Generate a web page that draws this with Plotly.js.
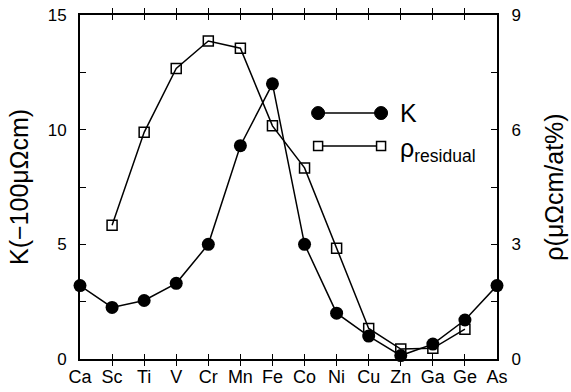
<!DOCTYPE html>
<html><head><meta charset="utf-8">
<script src="https://cdn.plot.ly/plotly-3.0.1.min.js"></script>
<style>html,body{margin:0;padding:0;background:#fff}#c{width:571px;height:392px}</style>
</head><body><div id="c"></div>
<script>
const elements = ['Ca','Sc','Ti','V','Cr','Mn','Fe','Co','Ni','Cu','Zn','Ga','Ge','As'];
const kValues = [3.2, 2.25, 2.55, 3.3, 5.0, 9.3, 12.0, 5.0, 2.0, 1.0, 0.15, 0.65, 1.7, 3.2];
const rhoElements = ['Sc','Ti','V','Cr','Mn','Fe','Co','Ni','Cu','Zn','Ga','Ge'];
const rhoValues = [3.5, 5.93, 7.6, 8.32, 8.13, 6.1, 5.0, 2.9, 0.8, 0.26, 0.28, 0.78];

const F = 'Liberation Sans, Arial, sans-serif';
const traces = [
  {x: elements, y: kValues, type:'scatter', mode:'lines+markers', name:'K', cliponaxis:false,
   line:{color:'#000', width:1.5}, marker:{symbol:'circle', size:13, color:'#000'}},
  {x: rhoElements, y: rhoValues, type:'scatter', mode:'lines+markers', name:'ρ', yaxis:'y2', cliponaxis:false,
   line:{color:'#000', width:1.5}, marker:{symbol:'square-open', size:10, color:'#000', line:{width:1.5}}}
];
const lx0 = 0.571, lx1 = 0.722, ly1 = 0.715, ly2 = 0.619;
const shapes = [
  {type:'line', xref:'paper', yref:'paper', x0:lx0, x1:lx1, y0:ly1, y1:ly1, line:{color:'#000', width:1.5}},
  {type:'line', xref:'paper', yref:'paper', x0:lx0, x1:lx1, y0:ly2, y1:ly2, line:{color:'#000', width:1.5}}
];
[lx0, lx1].forEach(x => {
  shapes.push({type:'circle', xref:'paper', yref:'paper', xsizemode:'pixel', ysizemode:'pixel',
    xanchor:x, yanchor:ly1, x0:-6.5, x1:6.5, y0:-6.5, y1:6.5, fillcolor:'#000', line:{color:'#000', width:1}});
  shapes.push({type:'rect', xref:'paper', yref:'paper', xsizemode:'pixel', ysizemode:'pixel',
    xanchor:x, yanchor:ly2, x0:-4.5, x1:4.5, y0:-4.5, y1:4.5, fillcolor:'#fff', line:{color:'#000', width:1.5}});
});
const layout = {
  width:571, height:392, margin:{l:80, r:74, t:15, b:33},
  paper_bgcolor:'#fff', plot_bgcolor:'#fff', showlegend:false,
  font:{family:F, color:'#000'},
  xaxis:{type:'category', categoryorder:'array', categoryarray: elements, range:[0,13],
    showline:true, linewidth:2, linecolor:'#000', mirror:'allticks',
    ticks:'inside', ticklen:5, tickwidth:1, tickcolor:'#000',
    tickfont:{size:18, family:F}, showgrid:false, zeroline:false},
  yaxis:{range:[0,15], dtick:5, showline:true, linewidth:2, linecolor:'#000',
    ticks:'inside', ticklen:6, tickwidth:1, tickcolor:'#000', ticklabelstandoff:8,
    minor:{dtick:2.5, ticks:'inside', ticklen:6, tickcolor:'#000', tickwidth:1, showgrid:false},
    tickfont:{size:17, family:F}, showgrid:false, zeroline:false,
    title:{text:'K(−100μΩcm)', font:{size:25, family:F}, standoff:12}},
  yaxis2:{range:[0,9], dtick:3, overlaying:'y', side:'right', showline:true, linewidth:2, linecolor:'#000',
    ticks:'inside', ticklen:6, tickwidth:1, tickcolor:'#000', ticklabelstandoff:9,
    minor:{dtick:1.5, ticks:'inside', ticklen:6, tickcolor:'#000', tickwidth:1, showgrid:false},
    tickfont:{size:17, family:F}, showgrid:false, zeroline:false,
    title:{text:'ρ(μΩcm/at%)', font:{size:25, family:F}, standoff:26}},
  shapes: shapes,
  annotations:[
    {xref:'paper', yref:'paper', x:0.763, y:ly1, xanchor:'left', yanchor:'middle', showarrow:false,
     text:'K', font:{size:25, family:F}},
    {xref:'paper', yref:'paper', x:0.763, y:ly2-0.01, xanchor:'left', yanchor:'middle', showarrow:false,
     text:'ρ<sub>residual</sub>', font:{size:25, family:F}}
  ]
};
Plotly.newPlot('c', traces, layout, {staticPlot:true});
</script></body></html>
